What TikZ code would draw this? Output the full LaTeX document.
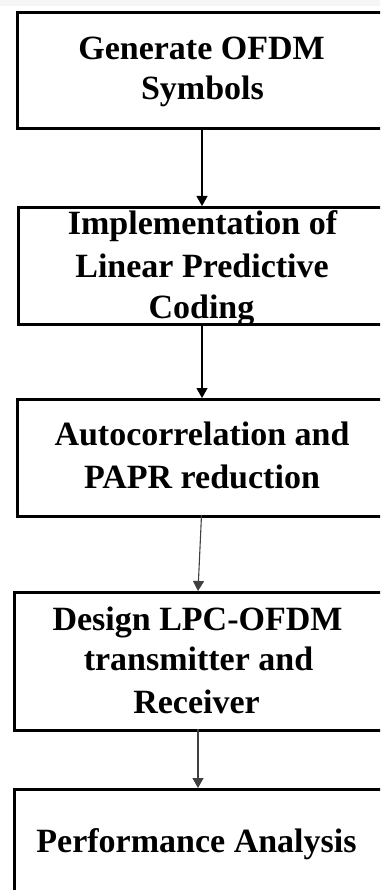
\documentclass[tikz,border=0pt]{standalone}
\usepackage{fontspec}
\setmainfont{Liberation Serif}
\usetikzlibrary{arrows.meta}
\tikzset{
  stage/.style={draw=black, line width=3pt, fill=none, inner sep=0pt, anchor=north west},
  label/.style={font=\bfseries\fontsize{34}{41}\selectfont, anchor=base, inner sep=0pt},
  flow/.style={line width=1.1pt, draw=#1, -{Triangle[length=10pt,width=11pt]}},
  flow/.default=black
}
\begin{document}
\begin{tikzpicture}[x=1pt,y=-1pt]
  \useasboundingbox (0,0) rectangle (380,890);
  \clip (0,0) rectangle (380,890);
  % faint background band
  \fill[black!4] (0,0) rectangle (380,6);

  % process boxes
  \node[stage, minimum width=372pt, minimum height=116pt] (b1) at (16,11) {};
  \node[stage, minimum width=372pt, minimum height=117pt] (b2) at (16.5,206) {};
  \node[stage, minimum width=372pt, minimum height=117pt] (b3) at (16,398) {};
  \node[stage, minimum width=370pt, minimum height=138pt] (b4) at (13,591) {};
  \node[stage, minimum width=369pt, minimum height=120pt] (b5) at (12.5,788) {};

  % box texts
  \node[label] (t1a) at (201.5,60) {Generate OFDM};
  \node[label] (t1b) at (202.5,100) {Symbols};
  \node[label] (t2a) at (202.5,235) {Implementation of};
  \node[label] (t2b) at (202,277) {Linear Predictive};
  \node[label] (t2c) at (201.5,318) {Coding};
  \node[label] (t3a) at (202,445) {Autocorrelation and};
  \node[label] (t3b) at (202,488) {PAPR reduction};
  \node[label] (t4a) at (197.5,630) {Design LPC-OFDM};
  \node[label] (t4b) at (198.5,670) {transmitter and};
  \node[label] (t4c) at (196.5,713) {Receiver};
  \node[label] (t5a) at (196.5,852) {Performance Analysis};

  % connectors
  \coordinate (a1s) at (202,127);  \coordinate (a1e) at (202,206);
  \coordinate (a2s) at (202,323);  \coordinate (a2e) at (202,398);
  \coordinate (a3s) at (201.5,515); \coordinate (a3e) at (198,591);
  \coordinate (a4s) at (198,729);  \coordinate (a4e) at (198,788);
  \draw[flow] (a1s) -- (a1e);
  \draw[flow] (a2s) -- (a2e);
  \draw[flow=black!75] (a3s) -- (a3e);
  \draw[flow=black!75] (a4s) -- (a4e);
\end{tikzpicture}
\end{document}
